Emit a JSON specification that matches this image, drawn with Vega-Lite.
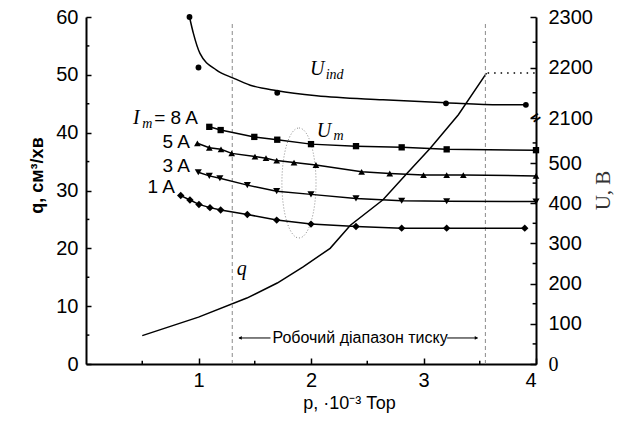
{
  "$schema": "https://vega.github.io/schema/vega-lite/v6.json",
  "width": 450,
  "height": 347,
  "autosize": "none",
  "padding": {"left": 86, "top": 17, "right": 84, "bottom": 57},
  "background": "white",
  "config": {
    "view": {"stroke": null},
    "axis": {
      "grid": false,
      "domainColor": "black",
      "domainWidth": 2,
      "tickColor": "black",
      "tickWidth": 1.5,
      "tickSize": -5,
      "labelFont": "Liberation Sans",
      "labelFontSize": 20,
      "labelColor": "black",
      "format": "d",
      "titleFont": "Liberation Sans",
      "titleColor": "black"
    }
  },
  "datasets": {
    "qline": [
      {"p": 0.5, "q": 4.9}, {"p": 1.0, "q": 8.1}, {"p": 1.43, "q": 11.4}, {"p": 1.7, "q": 14.0},
      {"p": 1.93, "q": 16.8}, {"p": 2.17, "q": 20.0}, {"p": 2.35, "q": 24.0}, {"p": 2.64, "q": 28.4},
      {"p": 2.84, "q": 32.7}, {"p": 3.06, "q": 37.3}, {"p": 3.31, "q": 43.1}, {"p": 3.56, "q": 50.3}
    ],
    "um": [
      {"s": "8A", "p": 1.096, "U": 590}, {"s": "8A", "p": 1.197, "U": 582}, {"s": "8A", "p": 1.496, "U": 565},
      {"s": "8A", "p": 1.7, "U": 558}, {"s": "8A", "p": 2.0, "U": 547}, {"s": "8A", "p": 2.4, "U": 542},
      {"s": "8A", "p": 2.806, "U": 539}, {"s": "8A", "p": 3.206, "U": 534}, {"s": "8A", "p": 4.0, "U": 532},
      {"s": "5A", "p": 0.99, "U": 549}, {"s": "5A", "p": 1.096, "U": 538}, {"s": "5A", "p": 1.2, "U": 534},
      {"s": "5A", "p": 1.295, "U": 524}, {"s": "5A", "p": 1.502, "U": 516}, {"s": "5A", "p": 1.6, "U": 512},
      {"s": "5A", "p": 1.695, "U": 506}, {"s": "5A", "p": 1.849, "U": 501}, {"s": "5A", "p": 2.044, "U": 495},
      {"s": "5A", "p": 2.45, "U": 478}, {"s": "5A", "p": 2.7, "U": 474}, {"s": "5A", "p": 3.0, "U": 470},
      {"s": "5A", "p": 3.206, "U": 470}, {"s": "5A", "p": 3.354, "U": 470}, {"s": "5A", "p": 4.0, "U": 468},
      {"s": "3A", "p": 0.998, "U": 477}, {"s": "3A", "p": 1.096, "U": 468}, {"s": "3A", "p": 1.19, "U": 462},
      {"s": "3A", "p": 1.434, "U": 445}, {"s": "3A", "p": 1.695, "U": 430}, {"s": "3A", "p": 2.0, "U": 422},
      {"s": "3A", "p": 2.4, "U": 412}, {"s": "3A", "p": 2.806, "U": 406}, {"s": "3A", "p": 3.206, "U": 405},
      {"s": "3A", "p": 4.0, "U": 404},
      {"s": "1A", "p": 0.842, "U": 419}, {"s": "1A", "p": 0.924, "U": 408}, {"s": "1A", "p": 1.004, "U": 397},
      {"s": "1A", "p": 1.102, "U": 389}, {"s": "1A", "p": 1.197, "U": 383}, {"s": "1A", "p": 1.434, "U": 372},
      {"s": "1A", "p": 1.695, "U": 358}, {"s": "1A", "p": 2.0, "U": 348}, {"s": "1A", "p": 2.4, "U": 342},
      {"s": "1A", "p": 2.806, "U": 338}, {"s": "1A", "p": 3.206, "U": 338}, {"s": "1A", "p": 3.9, "U": 338}
    ],
    "uindfit": [
      {"p": 0.92, "U": 2300}, {"p": 0.954, "U": 2268}, {"p": 1.013, "U": 2228}, {"p": 1.16, "U": 2195},
      {"p": 1.31, "U": 2179}, {"p": 1.46, "U": 2165}, {"p": 1.7, "U": 2154}, {"p": 2.05, "U": 2144},
      {"p": 2.64, "U": 2136}, {"p": 3.2, "U": 2130}, {"p": 3.68, "U": 2126}, {"p": 3.91, "U": 2126}
    ],
    "uindpts": [
      {"p": 0.92, "U": 2300}, {"p": 1.0, "U": 2200}, {"p": 1.7, "U": 2150}, {"p": 3.2, "U": 2129}, {"p": 3.91, "U": 2126}
    ]
  },
  "layer": [
    {
      "layer": [
        {
          "data": {"name": "qline"},
          "mark": {"type": "line", "color": "black", "strokeWidth": 1.5},
          "encoding": {
            "x": {
              "field": "p", "type": "quantitative",
              "scale": {"domain": [0, 4], "nice": false, "zero": false},
              "axis": {
                "values": [1, 2, 3, 4], "tickSize": -6, "labelPadding": 12,
                "title": "p, ·10⁻³ Тор", "titleFontSize": 18, "titleFontWeight": "normal",
                "titleX": 263, "titleY": 44, "titleAlign": "center", "titleBaseline": "alphabetic"
              }
            },
            "y": {
              "field": "q", "type": "quantitative",
              "scale": {"domain": [0, 60], "nice": false, "zero": true},
              "axis": {
                "values": [0, 10, 20, 30, 40, 50, 60], "tickSize": -5, "labelPadding": 13,
                "title": "q, см³/хв", "titleFontSize": 18, "titleFontWeight": "bold",
                "titleX": -49, "titleY": 158, "titleAngle": 270, "titleAlign": "center", "titleBaseline": "middle"
              }
            }
          }
        },
        {
          "data": {"values": [{"p": 1.3}, {"p": 3.55}]},
          "mark": {"type": "rule", "color": "#8a8a8a", "strokeWidth": 1, "strokeDash": [4, 3]},
          "encoding": {
            "x": {"field": "p", "type": "quantitative"},
            "y": {"datum": 0, "type": "quantitative"},
            "y2": {"datum": 59}
          }
        },
        {
          "data": {"values": [{"p": 3.57, "p2": 4.0, "q": 50.3}]},
          "mark": {"type": "rule", "color": "black", "strokeWidth": 1.5, "strokeDash": [1.5, 5]},
          "encoding": {
            "x": {"field": "p", "type": "quantitative"},
            "x2": {"field": "p2"},
            "y": {"field": "q", "type": "quantitative"}
          }
        },
        {
          "data": {"values": [{"a": 1.36, "b": 1.64, "q": 4.5}, {"a": 3.21, "b": 3.48, "q": 4.5}]},
          "mark": {"type": "rule", "color": "black", "strokeWidth": 1},
          "encoding": {
            "x": {"field": "a", "type": "quantitative"},
            "x2": {"field": "b"},
            "y": {"field": "q", "type": "quantitative"}
          }
        },
        {
          "data": {"values": [{"p": 1.37, "q": 4.5}]},
          "mark": {"type": "point", "shape": "triangle-left", "filled": true, "color": "black", "size": 14, "opacity": 1},
          "encoding": {
            "x": {"field": "p", "type": "quantitative"},
            "y": {"field": "q", "type": "quantitative"}
          }
        },
        {
          "data": {"values": [{"p": 3.47, "q": 4.5}]},
          "mark": {"type": "point", "shape": "triangle-right", "filled": true, "color": "black", "size": 14, "opacity": 1},
          "encoding": {
            "x": {"field": "p", "type": "quantitative"},
            "y": {"field": "q", "type": "quantitative"}
          }
        },
        {
          "data": {"values": [{"p": 1.893, "q": 31.3}]},
          "mark": {"type": "point", "shape": "M0,-1A0.31,1,0,1,1,0,1A0.31,1,0,1,1,0,-1Z", "size": 12100,
            "filled": false, "stroke": "#8a8a8a", "strokeWidth": 1, "strokeDash": [1, 2], "opacity": 1},
          "encoding": {
            "x": {"field": "p", "type": "quantitative"},
            "y": {"field": "q", "type": "quantitative"}
          }
        },
        {
          "data": {"values": [{"p": 0.5}, {"p": 1.5}, {"p": 2.5}, {"p": 3.5}]},
          "mark": {"type": "rule", "color": "black", "strokeWidth": 1.5},
          "encoding": {
            "x": {"field": "p", "type": "quantitative"},
            "y": {"datum": 0, "type": "quantitative"},
            "y2": {"datum": 0.55}
          }
        },
        {
          "data": {"values": [{"q": 5}, {"q": 15}, {"q": 25}, {"q": 35}, {"q": 45}, {"q": 55}]},
          "mark": {"type": "rule", "color": "black", "strokeWidth": 1.5},
          "encoding": {
            "y": {"field": "q", "type": "quantitative"},
            "x": {"datum": 0, "type": "quantitative"},
            "x2": {"datum": 0.03}
          }
        },
        {
          "data": {"values": [
            {"t": "= 8 A", "p": 0.996, "q": 41.5}, {"t": "5 A", "p": 0.924, "q": 37.35},
            {"t": "3 A", "p": 0.924, "q": 33.2}, {"t": "1 A", "p": 0.791, "q": 29.6}
          ]},
          "mark": {"type": "text", "font": "Liberation Sans", "fontSize": 19, "align": "right", "baseline": "alphabetic", "color": "black"},
          "encoding": {
            "x": {"field": "p", "type": "quantitative"},
            "y": {"field": "q", "type": "quantitative"},
            "text": {"field": "t"}
          }
        },
        {
          "data": {"values": [
            {"t": "I", "p": 0.418, "q": 41.5}, {"t": "U", "p": 1.99, "q": 50.0},
            {"t": "U", "p": 2.05, "q": 39.3}, {"t": "q", "p": 1.34, "q": 15.4}
          ]},
          "mark": {"type": "text", "font": "Liberation Serif", "fontStyle": "italic", "fontSize": 20, "align": "left", "baseline": "alphabetic", "color": "black"},
          "encoding": {
            "x": {"field": "p", "type": "quantitative"},
            "y": {"field": "q", "type": "quantitative"},
            "text": {"field": "t"}
          }
        },
        {
          "data": {"values": [
            {"t": "m", "p": 0.5, "q": 40.8}, {"t": "ind", "p": 2.13, "q": 49.3}, {"t": "m", "p": 2.2, "q": 38.7}
          ]},
          "mark": {"type": "text", "font": "Liberation Serif", "fontStyle": "italic", "fontSize": 14, "align": "left", "baseline": "alphabetic", "color": "black"},
          "encoding": {
            "x": {"field": "p", "type": "quantitative"},
            "y": {"field": "q", "type": "quantitative"},
            "text": {"field": "t"}
          }
        },
        {
          "data": {"values": [{"t": "Робочий діапазон тиску", "p": 2.436, "q": 4.5}]},
          "mark": {"type": "text", "font": "Liberation Sans", "fontSize": 16, "align": "center", "baseline": "middle", "color": "black"},
          "encoding": {
            "x": {"field": "p", "type": "quantitative"},
            "y": {"field": "q", "type": "quantitative"},
            "text": {"field": "t"}
          }
        }
      ]
    },
    {
      "layer": [
        {
          "data": {"name": "um"},
          "mark": {"type": "line", "color": "black", "strokeWidth": 1.5},
          "encoding": {
            "x": {"field": "p", "type": "quantitative"},
            "y": {
              "field": "U", "type": "quantitative",
              "scale": {"type": "linear", "domain": [0, 612, 2100, 2300], "range": [347, 101, 101, 0], "nice": false, "zero": false},
              "axis": {
                "orient": "right",
                "values": [0, 100, 200, 300, 400, 500, 2100, 2200, 2300],
                "tickSize": -6, "labelPadding": 18,
                "labelFont": {"condition": {"test": "datum.value == 0", "value": "Liberation Serif"}, "value": "Liberation Sans"},
                "title": "U, В", "titleFont": "Liberation Serif", "titleFontSize": 21, "titleFontWeight": "normal",
                "titleColor": "#333333",
                "titleX": 67, "titleY": 173, "titleAngle": 270, "titleAlign": "center", "titleBaseline": "middle"
              }
            },
            "detail": {"field": "s", "type": "nominal"}
          }
        },
        {
          "data": {"name": "um"},
          "mark": {"type": "point", "filled": true, "color": "black", "opacity": 1},
          "encoding": {
            "x": {"field": "p", "type": "quantitative"},
            "y": {"field": "U", "type": "quantitative"},
            "shape": {"field": "s", "type": "nominal", "legend": null,
              "scale": {"domain": ["8A", "5A", "3A", "1A"], "range": ["square", "triangle-up", "triangle-down", "diamond"]}},
            "size": {"field": "s", "type": "nominal", "legend": null,
              "scale": {"domain": ["8A", "5A", "3A", "1A"], "range": [40, 55, 55, 48]}}
          }
        },
        {
          "data": {"name": "uindfit"},
          "mark": {"type": "line", "color": "black", "strokeWidth": 1.5, "interpolate": "monotone"},
          "encoding": {
            "x": {"field": "p", "type": "quantitative"},
            "y": {"field": "U", "type": "quantitative"}
          }
        },
        {
          "data": {"name": "uindpts"},
          "mark": {"type": "point", "shape": "circle", "filled": true, "color": "black", "size": 34, "opacity": 1},
          "encoding": {
            "x": {"field": "p", "type": "quantitative"},
            "y": {"field": "U", "type": "quantitative"}
          }
        },
        {
          "data": {"values": [{"U": 50}, {"U": 150}, {"U": 250}, {"U": 350}, {"U": 450}, {"U": 550}, {"U": 2150}, {"U": 2250}]},
          "mark": {"type": "rule", "color": "black", "strokeWidth": 1.5},
          "encoding": {
            "y": {"field": "U", "type": "quantitative"},
            "x": {"datum": 3.97, "type": "quantitative"},
            "x2": {"datum": 4.0}
          }
        },
        {
          "data": {"values": [{"t": "=", "p": 4.0, "U": 2100}]},
          "mark": {"type": "text", "font": "Liberation Sans", "fontSize": 16, "fontWeight": "bold", "angle": -35, "align": "center", "baseline": "middle", "color": "black"},
          "encoding": {
            "x": {"field": "p", "type": "quantitative"},
            "y": {"field": "U", "type": "quantitative"},
            "text": {"field": "t"}
          }
        }
      ]
    }
  ],
  "resolve": {"scale": {"y": "independent"}}
}
